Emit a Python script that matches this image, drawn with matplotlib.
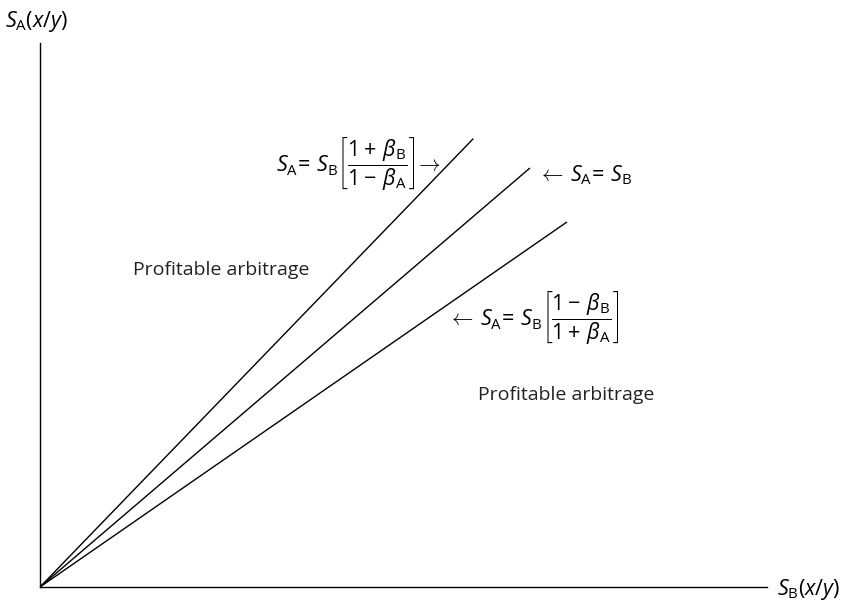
import numpy as np
import matplotlib.pyplot as plt

plt.rcParams['font.family'] = ['Open Sans', 'DejaVu Sans']
plt.rcParams['mathtext.fontset'] = 'custom'
plt.rcParams['mathtext.rm'] = 'Open Sans'
plt.rcParams['mathtext.it'] = 'Open Sans:italic'
plt.rcParams['mathtext.bf'] = 'Open Sans:bold'

# slopes S_A/S_B of the three boundaries and where each line stops on the S_B axis
line_names = ['upper', 'parity', 'lower']
slopes = [1.21, 1.0, 0.81]
sb_end = [5.96, 6.74, 7.25]

x_max = 10.0
y_max = 8.75

fig = plt.figure(figsize=(8.44, 6.04), dpi=100)
ax = fig.add_axes([40 / 844, 17 / 604, 727 / 844, 544 / 604])
ax.set_xlim(0, x_max)
ax.set_ylim(0, y_max)

for s, xe in zip(slopes, sb_end):
    xs = np.array([0, xe])
    ax.plot(xs, s * xs, color='black', lw=1.0, solid_capstyle='butt')

for side in ['top', 'right']:
    ax.spines[side].set_visible(False)
for side in ['left', 'bottom']:
    ax.spines[side].set_linewidth(1.0)
ax.set_xticks([])
ax.set_yticks([])

fs_math = 15.5
fs_text = 14

# axis labels
fig.text(5 / 844, 1 - 22 / 604, r'$S_{\mathrm{A}}(x/y)$', fontsize=fs_math,
         ha='left', va='center')
fig.text(777 / 844, 1 - 589 / 604, r'$S_{\mathrm{B}}(x/y)$', fontsize=fs_math,
         ha='left', va='center')

# boundary labels
fig.text(441 / 844, 1 - 163 / 604,
         r'$S_{\mathrm{A}}\!=\,S_{\mathrm{B}}\left[\dfrac{1+\,\beta_{\mathrm{B}}}{1-\,\beta_{\mathrm{A}}}\right]\!\rightarrow$',
         fontsize=fs_math, ha='right', va='center')
fig.text(538 / 844, 1 - 175 / 604,
         r'$\leftarrow\,S_{\mathrm{A}}\!=\,S_{\mathrm{B}}$',
         fontsize=fs_math, ha='left', va='center')
fig.text(448 / 844, 1 - 317 / 604,
         r'$\leftarrow\,S_{\mathrm{A}}\!=\,S_{\mathrm{B}}\left[\dfrac{1-\,\beta_{\mathrm{B}}}{1+\,\beta_{\mathrm{A}}}\right]$',
         fontsize=fs_math, ha='left', va='center')

# region labels
fig.text(133 / 844, 1 - 270 / 604, 'Profitable arbitrage', fontsize=fs_text,
         ha='left', va='center', color='#222222')
fig.text(478 / 844, 1 - 395 / 604, 'Profitable arbitrage', fontsize=fs_text,
         ha='left', va='center', color='#222222')

fig.savefig('out.png', dpi=100)
